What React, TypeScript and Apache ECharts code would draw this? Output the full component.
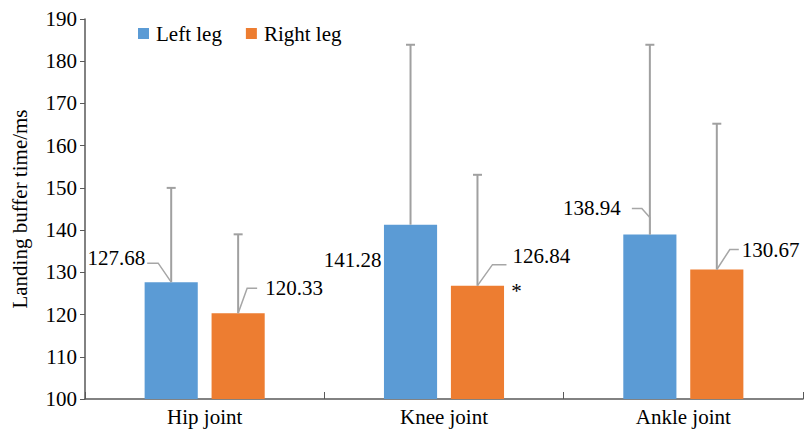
import React, { useEffect, useRef } from "react";
import * as echarts from "echarts";

const categories = ["Hip joint", "Knee joint", "Ankle joint"];
const seriesNames = ["Left leg", "Right leg"];
const leftMeans = [127.68, 141.28, 138.94];
const rightMeans = [120.33, 126.84, 130.67];
const leftUpper = [150, 183.9, 183.9];
const rightUpper = [139, 153.1, 165.2];
const rightNotes = ["", "*", ""];
const yTicks = { min: 100, max: 190, interval: 10 };

const FONT = "'Times New Roman', 'Liberation Serif', serif";
const FS = 21;
const COLORS = ["#5B9BD5", "#ED7D31"];
const BAR_W = 0.222;
const BAR_GAP = 0.26;

// leader-line layout (pixels, relative to bar top centre)
const leftLayout = [
  { line: [[0, 0], [-13, -19], [-24, -19]], tx: -26, ty: -24, align: "right" },
  { line: null, tx: -29, ty: 35, align: "right" },
  { line: [[0, 0], [0, -17], [-8, -26], [-18, -26]], tx: -29, ty: -27, align: "right" },
];
const rightLayout = [
  { line: [[0, 0], [9, -25], [19, -25]], tx: 27, ty: -25, align: "left" },
  { line: [[0, 0], [15, -21], [29, -21]], tx: 35, ty: -30, align: "left" },
  { line: [[0, 0], [13, -20], [22, -20]], tx: 25, ty: -20, align: "left" },
];

function makeOverlay(side: number, means: number[], upper: number[], layout: any[], notes: string[]) {
  const data = means.map((m, i) => [i, m, upper[i]]);
  return {
    type: "custom",
    name: seriesNames[side],
    z: 5,
    silent: true,
    data,
    encode: { x: 0, y: [1, 2] },
    renderItem: (params: any, api: any) => {
      const idx = api.value(0);
      const mean = api.value(1);
      const up = api.value(2);
      const band = api.size([1, 0])[0];
      const bw = band * BAR_W;
      const gap = bw * BAR_GAP;
      const off = ((bw + gap) / 2) * (side === 0 ? -1 : 1);
      const base = api.coord([idx, mean]);
      const top = api.coord([idx, up]);
      const x = base[0] + off;
      const y = base[1];
      const children: any[] = [];
      const eb = { stroke: "#A0A0A0", lineWidth: 2 };
      children.push({ type: "line", shape: { x1: x, y1: y, x2: x, y2: top[1] }, style: eb });
      children.push({ type: "line", shape: { x1: x - 4.5, y1: top[1], x2: x + 4.5, y2: top[1] }, style: eb });
      const L = layout[params.dataIndex];
      if (L.line) {
        children.push({
          type: "polyline",
          shape: { points: L.line.map((p: number[]) => [x + p[0], y + p[1]]) },
          style: { stroke: "#A6A6A6", lineWidth: 1.5, fill: null },
        });
      }
      children.push({
        type: "text",
        style: {
          text: mean.toFixed(2),
          x: x + L.tx,
          y: y + L.ty,
          fill: "#000",
          fontSize: FS,
          fontFamily: FONT,
          align: L.align,
          verticalAlign: "middle",
        },
      });
      const note = notes[params.dataIndex];
      if (note) {
        children.push({
          type: "text",
          style: {
            text: note,
            x: x + 39,
            y: y + 5,
            fill: "#000",
            fontSize: FS,
            fontFamily: FONT,
            align: "center",
            verticalAlign: "middle",
          },
        });
      }
      return { type: "group", children };
    },
  };
}

export default function App() {
  const ref = useRef<HTMLDivElement>(null);
  useEffect(() => {
    if (!ref.current) return;
    const chart = echarts.init(ref.current, null, { renderer: "svg" });
    chart.setOption({
      animation: false,
      color: COLORS,
      textStyle: { fontFamily: FONT },
      grid: { left: 85, right: 1, top: 19, bottom: 33, containLabel: false },
      legend: {
        data: seriesNames,
        left: 133,
        top: 18,
        itemWidth: 11,
        itemHeight: 11,
        itemGap: 24,
        icon: "rect",
        textStyle: { fontFamily: FONT, fontSize: FS, color: "#000", padding: [0, 0, 0, 2] },
      },
      xAxis: {
        type: "category",
        data: categories,
        axisLine: { lineStyle: { color: "#595959", width: 1.5 } },
        axisTick: { show: true, inside: true, length: 7, alignWithLabel: false, lineStyle: { color: "#595959" } },
        axisLabel: { fontFamily: FONT, fontSize: FS, color: "#000", margin: 7 },
      },
      yAxis: {
        type: "value",
        min: yTicks.min,
        max: yTicks.max,
        interval: yTicks.interval,
        name: "Landing buffer time/ms",
        nameLocation: "middle",
        nameRotate: 90,
        nameGap: 55,
        nameTextStyle: { fontFamily: FONT, fontSize: FS, color: "#000" },
        axisLine: { show: true, lineStyle: { color: "#595959", width: 1.5 } },
        axisTick: { show: true, length: 5, lineStyle: { color: "#595959" } },
        axisLabel: { fontFamily: FONT, fontSize: FS, color: "#000", margin: 8 },
        splitLine: { show: false },
      },
      series: [
        {
          type: "bar",
          name: seriesNames[0],
          data: leftMeans,
          barWidth: BAR_W * 100 + "%",
          barGap: BAR_GAP * 100 + "%",
          itemStyle: { color: COLORS[0] },
        },
        {
          type: "bar",
          name: seriesNames[1],
          data: rightMeans,
          barWidth: BAR_W * 100 + "%",
          barGap: BAR_GAP * 100 + "%",
          itemStyle: { color: COLORS[1] },
        },
        makeOverlay(0, leftMeans, leftUpper, leftLayout, ["", "", ""]),
        makeOverlay(1, rightMeans, rightUpper, rightLayout, rightNotes),
      ],
    });
    return () => chart.dispose();
  }, []);
  return <div ref={ref} style={{ width: 804, height: 432, position: "absolute", left: 0, top: 0 }} />;
}
